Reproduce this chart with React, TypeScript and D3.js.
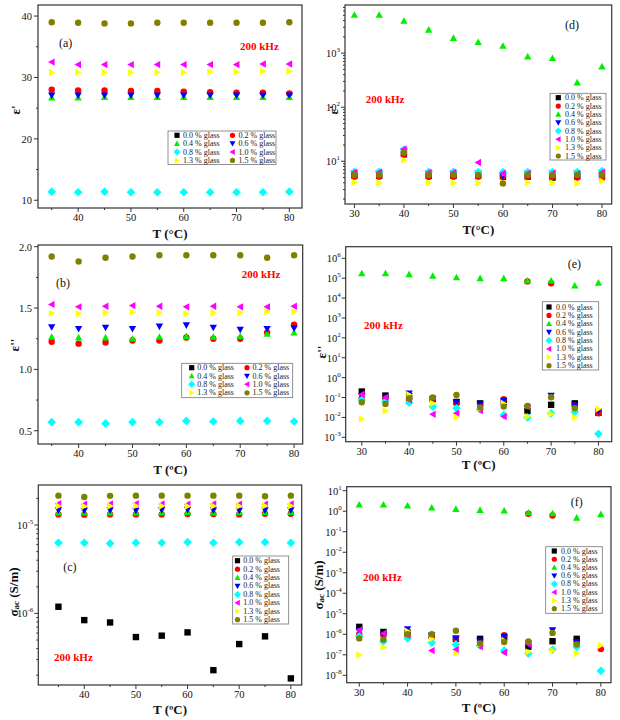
import React from 'react';
import * as d3 from 'd3';

type Val = number | null;

const T_LEFT = [35, 40, 45, 50, 55, 60, 65, 70, 75, 80];
const T_RIGHT = [30, 35, 40, 45, 50, 55, 60, 65, 70, 75, 80];
const GLASS = ['0.0 % glass', '0.2 % glass', '0.4 % glass', '0.6 % glass', '0.8 % glass', '1.0 % glass', '1.3 % glass', '1.5 % glass'];
const COLORS = ['#000000', '#ff0000', '#00f000', '#0000ff', '#00ffff', '#ff00ff', '#ffff00', '#808000'];
const SHAPES = ['square', 'circle', 'up', 'down', 'diamond', 'left', 'right', 'circle'];

const X_TICKS_LEFT = [40, 50, 60, 70, 80];
const X_TICKS_RIGHT = [30, 40, 50, 60, 70, 80];
const Y_TICKS_A = [10, 20, 30, 40];
const Y_TICKS_B = [0.5, 1.0, 1.5, 2.0];
const Y_EXP_C = [-6, -5];
const Y_EXP_D = [1, 2, 3];
const Y_EXP_E = [-3, -2, -1, 0, 1, 2, 3, 4, 5, 6];
const Y_EXP_F = [-8, -7, -6, -5, -4, -3, -2, -1, 0, 1];

// (a) ε' at 200 kHz, 35..80 °C
const EPS1_A: Val[][] = [
  [null, null, null, null, null, null, null, null, null, null],
  [28.0, 27.9, 27.9, 27.8, 27.8, 27.7, 27.6, 27.5, 27.5, 27.4],
  [26.7, 26.7, 26.8, 26.8, 26.8, 26.8, 26.8, 26.8, 26.8, 26.8],
  [27.1, 27.1, 27.1, 27.1, 27.1, 27.1, 27.1, 27.1, 27.1, 27.1],
  [11.4, 11.3, 11.4, 11.3, 11.3, 11.3, 11.3, 11.3, 11.3, 11.4],
  [32.5, 32.1, 32.1, 32.1, 32.1, 32.1, 32.1, 32.1, 32.2, 32.2],
  [30.8, 30.8, 30.8, 30.8, 30.8, 30.8, 30.9, 30.9, 31.0, 31.0],
  [39.0, 38.9, 38.8, 38.8, 38.9, 38.9, 38.9, 38.9, 38.9, 39.0],
];

// (b) ε'' at 200 kHz, 35..80 °C
const EPS2_B: Val[][] = [
  [null, null, null, null, null, null, null, null, null, null],
  [1.226, 1.21, 1.22, 1.235, 1.235, 1.26, 1.25, 1.25, 1.30, 1.365],
  [1.265, 1.26, 1.26, 1.25, 1.265, 1.27, 1.265, 1.27, 1.29, 1.30],
  [1.345, 1.33, 1.34, 1.33, 1.35, 1.36, 1.34, 1.325, 1.33, 1.335],
  [0.57, 0.57, 0.56, 0.57, 0.57, 0.58, 0.575, 0.58, 0.58, 0.575],
  [1.53, 1.51, 1.515, 1.52, 1.515, 1.51, 1.515, 1.51, 1.51, 1.515],
  [1.457, 1.455, 1.46, 1.465, 1.46, 1.455, 1.46, 1.46, 1.47, 1.47],
  [1.92, 1.88, 1.91, 1.92, 1.93, 1.93, 1.93, 1.93, 1.91, 1.93],
];

// (c) σac at 200 kHz, 35..80 °C
const SIGMA_C: Val[][] = [
  [1.19e-6, 8.4e-7, 7.9e-7, 5.4e-7, 5.6e-7, 6.1e-7, 2.28e-7, 4.5e-7, 5.5e-7, 1.84e-7],
  [1.32e-5, 1.31e-5, 1.32e-5, 1.32e-5, 1.32e-5, 1.33e-5, 1.33e-5, 1.32e-5, 1.34e-5, 1.34e-5],
  [1.38e-5, 1.38e-5, 1.38e-5, 1.38e-5, 1.38e-5, 1.39e-5, 1.38e-5, 1.39e-5, 1.39e-5, 1.40e-5],
  [1.47e-5, 1.46e-5, 1.47e-5, 1.46e-5, 1.48e-5, 1.49e-5, 1.47e-5, 1.46e-5, 1.47e-5, 1.47e-5],
  [6.3e-6, 6.3e-6, 6.2e-6, 6.3e-6, 6.3e-6, 6.4e-6, 6.3e-6, 6.4e-6, 6.4e-6, 6.3e-6],
  [1.74e-5, 1.72e-5, 1.73e-5, 1.74e-5, 1.73e-5, 1.72e-5, 1.73e-5, 1.72e-5, 1.72e-5, 1.73e-5],
  [1.64e-5, 1.63e-5, 1.64e-5, 1.65e-5, 1.64e-5, 1.63e-5, 1.64e-5, 1.64e-5, 1.65e-5, 1.65e-5],
  [2.15e-5, 2.08e-5, 2.14e-5, 2.15e-5, 2.15e-5, 2.15e-5, 2.15e-5, 2.15e-5, 2.12e-5, 2.15e-5],
];

// (d) ε' at 200 kHz, 30..80 °C
const EPS1_D: Val[][] = [
  [5.5, 5.4, 13.5, 5.4, 5.4, 5.5, 5.2, 5.2, 5.0, 5.3, 5.5],
  [5.2, 5.2, 13.3, 5.1, 5.2, 5.2, 5.3, 5.2, 5.1, 5.0, 4.8],
  [5100, 5100, 3960, 2700, 1900, 1600, 1360, 865, 808, 286, 565],
  [6.0, 6.0, 15.5, 6.0, 6.0, 6.0, 5.4, 6.0, 6.0, 6.0, 6.2],
  [6.4, 6.4, 16.5, 6.4, 6.4, 6.3, 6.3, 6.3, 6.3, 6.3, 6.6],
  [6.3, 6.3, 16.8, 6.2, 6.2, 9.5, 6.0, 6.0, 6.0, 5.9, 6.3],
  [4.1, 4.0, 10.5, 4.0, 4.0, 4.0, 4.0, 4.0, 4.0, 3.9, 4.3],
  [5.6, 5.6, 14.5, 5.6, 5.6, 5.6, 3.9, 5.6, 5.5, 5.6, 5.6],
];

// (e) ε'' at 200 kHz, 30..80 °C
const EPS2_E: Val[][] = [
  [0.2, 0.126, 0.12, 0.085, 0.06, 0.051, 0.06, 0.021, 0.043, 0.051, 0.017],
  [0.092, 0.09, 0.08, 0.08, 0.051, 0.04, 0.082, 6.9e4, 5.6e4, 0.04, 0.016],
  [1.76e5, 1.76e5, 1.57e5, 1.29e5, 1.1e5, 9.9e4, 9.9e4, 7.5e4, 7.5e4, 4.2e4, 5.9e4],
  [0.12, 0.092, 0.164, 0.085, 0.058, 0.045, 0.07, 0.03, 0.126, 0.04, 0.02],
  [0.076, 0.063, 0.055, 0.035, 0.029, 0.025, 0.0134, 0.01, 0.016, 0.019, 0.0015],
  [0.146, 0.1, 0.076, 0.0144, 0.016, 0.022, 0.011, 0.035, null, null, null],
  [0.0084, 0.021, 0.14, 0.051, 0.0102, 0.028, 0.05, 0.011, 0.015, 0.0102, 0.027],
  [0.058, 0.048, 0.092, 0.1, 0.135, 0.032, 0.035, 0.038, 0.103, 0.029, null],
];

// (f) σac at 200 kHz, 30..80 °C
const SIGMA_F: Val[][] = [
  [2.3e-6, 1.3e-6, 1.2e-6, 8.6e-7, 6e-7, 6e-7, 7e-7, 2.5e-7, 4.6e-7, 6e-7, null],
  [1.0e-6, 9e-7, 8e-7, 7e-7, 6e-7, 4e-7, 9e-7, 0.75, 0.62, 3.5e-7, 1.9e-7],
  [2.07, 2.07, 1.85, 1.48, 1.28, 1.14, 1.06, 0.85, 0.79, 0.48, 0.71],
  [1.5e-6, 9.3e-7, 1.8e-6, 8.6e-7, 6.3e-7, 4.5e-7, 7.7e-7, 3.5e-7, 1.6e-6, 4.3e-7, null],
  [8e-7, 4.5e-7, 6.3e-7, 3.9e-7, 3.2e-7, 2.8e-7, 1.6e-7, 1.15e-7, 1.8e-7, 2.4e-7, 1.65e-8],
  [1.6e-6, 1.1e-6, 9e-7, 1.6e-7, 1.8e-7, 2.5e-7, 1.3e-7, 3.3e-7, null, null, null],
  [9.8e-8, 2.3e-7, 1.4e-6, 6e-7, 1.17e-7, 3.2e-7, 5e-7, 1.4e-7, 1.6e-7, 1.15e-7, 2.9e-7],
  [6.3e-7, 5.6e-7, 1.0e-6, 1.0e-6, 1.5e-6, 3.6e-7, 4.2e-7, 4.5e-7, 1.17e-6, 3.2e-7, null],
];

const FONT = "'Liberation Serif', 'Times New Roman', serif";

function markerPath(shape: string, s: number): string {
  switch (shape) {
    case 'square':
      return `M${-s},${-s}H${s}V${s}H${-s}Z`;
    case 'circle':
      return `M${-s},0A${s},${s} 0 1,0 ${s},0A${s},${s} 0 1,0 ${-s},0Z`;
    case 'up':
      return `M0,${-s * 1.15}L${s * 1.15},${s * 0.9}L${-s * 1.15},${s * 0.9}Z`;
    case 'down':
      return `M0,${s * 1.15}L${s * 1.15},${-s * 0.9}L${-s * 1.15},${-s * 0.9}Z`;
    case 'left':
      return `M${-s * 1.15},0L${s * 0.9},${-s * 1.15}L${s * 0.9},${s * 1.15}Z`;
    case 'right':
      return `M${s * 1.15},0L${-s * 0.9},${-s * 1.15}L${-s * 0.9},${s * 1.15}Z`;
    case 'diamond':
      return `M0,${-s * 1.35}L${s * 1.35},0L0,${s * 1.35}L${-s * 1.35},0Z`;
  }
  return '';
}

interface LegendCfg { x: number; y: number; w: number; h: number; cols: number; rowY: number[]; markX: number[]; textX: number[]; }
interface PanelCfg {
  frame: [number, number, number, number];
  xDom: [number, number];
  yDom: [number, number];
  log: boolean;
  xs: number[];
  data: Val[][];
  xTicks: number[];
  xMinorStep: number;
  yTicks: number[];
  yMinor: number[];
  yFmt: (v: number) => string;
  xTitle: string;
  xTitleY: number;
  yTitle: 'eps1' | 'eps2' | 'sigma';
  yTitlePos: [number, number];
  tag: string;
  tagPos: [number, number];
  khzPos: [number, number];
  legend: LegendCfg;
}

function logMinor(exps: number[], full: boolean): number[] {
  const out: number[] = [];
  if (!full) return out;
  const lo = Math.min(...exps) - 1;
  const hi = Math.max(...exps) + 1;
  for (let e = lo; e <= hi; e++) for (let k = 2; k <= 9; k++) out.push(k * Math.pow(10, e));
  return out;
}

function rows(start: number, step: number, n: number): number[] {
  const r: number[] = [];
  for (let i = 0; i < n; i++) r.push(start + i * step);
  return r;
}

const fmtLin0 = (v: number) => d3.format('d')(v);
const fmtLin1 = (v: number) => d3.format('.1f')(v);

const PANELS: PanelCfg[] = [
  {
    frame: [38, 5, 302, 208], xDom: [32.4, 82.4], yDom: [8.74, 41.8], log: false,
    xs: T_LEFT, data: EPS1_A, xTicks: X_TICKS_LEFT, xMinorStep: 5,
    yTicks: Y_TICKS_A, yMinor: [5, 15, 25, 35], yFmt: fmtLin0,
    xTitle: 'T (°C)', xTitleY: 238, yTitle: 'eps1', yTitlePos: [15, 110],
    tag: '(a)', tagPos: [59, 46.5], khzPos: [240, 50],
    legend: { x: 168, y: 131, w: 108, h: 33.5, cols: 2, rowY: [135.3, 143.6, 152, 160.4], markX: [177, 232.5], textX: [183, 238.5] },
  },
  {
    frame: [38, 245, 302.7, 444], xDom: [32.46, 81.6], yDom: [0.392, 2.014], log: false,
    xs: T_LEFT, data: EPS2_B, xTicks: X_TICKS_LEFT, xMinorStep: 5,
    yTicks: Y_TICKS_B, yMinor: [0.75, 1.25, 1.75], yFmt: fmtLin1,
    xTitle: 'T (ºC)', xTitleY: 474, yTitle: 'eps2', yTitlePos: [14, 345],
    tag: '(b)', tagPos: [56, 286.5], khzPos: [241.7, 278],
    legend: { x: 181.7, y: 363.3, w: 111, h: 34.4, cols: 2, rowY: [367.7, 376, 384.3, 392.8], markX: [191.7, 247], textX: [197.3, 252.5] },
  },
  {
    frame: [38.3, 485, 301.7, 685], xDom: [31.1, 82.1], yDom: [Math.pow(10, -6.81), Math.pow(10, -4.547)], log: true,
    xs: T_LEFT, data: SIGMA_C, xTicks: X_TICKS_LEFT, xMinorStep: 5,
    yTicks: Y_EXP_C.map((e) => Math.pow(10, e)), yMinor: logMinor(Y_EXP_C, true), yFmt: (v) => String(Math.round(Math.log10(v))),
    xTitle: 'T (ºC)', xTitleY: 714, yTitle: 'sigma', yTitlePos: [13, 592],
    tag: '(c)', tagPos: [63.3, 570.5], khzPos: [54, 660.5],
    legend: { x: 232.7, y: 556, w: 56, h: 68, cols: 1, rowY: rows(560.7, 8.43, 8), markX: [237.5], textX: [243.3] },
  },
  {
    frame: [345, 5, 611.7, 204], xDom: [28.1, 81.96], yDom: [Math.pow(10, 0.21), Math.pow(10, 3.89)], log: true,
    xs: T_RIGHT, data: EPS1_D, xTicks: X_TICKS_RIGHT, xMinorStep: 5,
    yTicks: Y_EXP_D.map((e) => Math.pow(10, e)), yMinor: logMinor(Y_EXP_D, true), yFmt: (v) => String(Math.round(Math.log10(v))),
    xTitle: 'T(°C)', xTitleY: 234, yTitle: 'eps1', yTitlePos: [333, 110],
    tag: '(d)', tagPos: [565, 29], khzPos: [365.7, 103],
    legend: { x: 550, y: 93.3, w: 56, h: 66.7, cols: 1, rowY: rows(97.7, 8.33, 8), markX: [558.3], textX: [565] },
  },
  {
    frame: [345.7, 246.7, 611.7, 441.7], xDom: [26.6, 82.8], yDom: [Math.pow(10, -3.22), Math.pow(10, 6.583)], log: true,
    xs: T_RIGHT, data: EPS2_E, xTicks: X_TICKS_RIGHT, xMinorStep: 5,
    yTicks: Y_EXP_E.map((e) => Math.pow(10, e)), yMinor: logMinor(Y_EXP_E, false), yFmt: (v) => String(Math.round(Math.log10(v))),
    xTitle: 'T (ºC)', xTitleY: 469, yTitle: 'eps2', yTitlePos: [321, 352],
    tag: '(e)', tagPos: [567.7, 268], khzPos: [364, 329],
    legend: { x: 542.3, y: 301.7, w: 56.4, h: 68.3, cols: 1, rowY: rows(307, 8.38, 8), markX: [549], textX: [556] },
  },
  {
    frame: [346.7, 486.7, 611, 682.7], xDom: [27.4, 82.1], yDom: [Math.pow(10, -8.36), Math.pow(10, 1.195)], log: true,
    xs: T_RIGHT, data: SIGMA_F, xTicks: X_TICKS_RIGHT, xMinorStep: 5,
    yTicks: Y_EXP_F.map((e) => Math.pow(10, e)), yMinor: logMinor(Y_EXP_F, false), yFmt: (v) => String(Math.round(Math.log10(v))),
    xTitle: 'T (ºC)', xTitleY: 712, yTitle: 'sigma', yTitlePos: [318, 585],
    tag: '(f)', tagPos: [570.7, 505.5], khzPos: [363, 580.5],
    legend: { x: 545.7, y: 546.7, w: 56.6, h: 66.6, cols: 1, rowY: rows(551, 8.24, 8), markX: [554.3], textX: [561] },
  },
];

function YTitle({ kind, x, y }: { kind: string; x: number; y: number }) {
  const common = { fontFamily: FONT, fontSize: 13, fontWeight: 'bold' as const, fill: '#111', textAnchor: 'middle' as const, dominantBaseline: 'central' as const };
  if (kind === 'sigma') {
    return (
      <text transform={`translate(${x},${y}) rotate(-90)`} {...common}>
        σ<tspan fontSize={9} dy={3}>ac</tspan><tspan dy={-3}> (S/m)</tspan>
      </text>
    );
  }
  return (
    <text transform={`translate(${x},${y}) rotate(-90)`} {...common}>
      {kind === 'eps1' ? "ε'" : "ε''"}
    </text>
  );
}

function Panel({ cfg }: { cfg: PanelCfg }) {
  const [x0, y0, x1, y1] = cfg.frame;
  const xS = d3.scaleLinear().domain(cfg.xDom).range([x0, x1]);
  const yS = cfg.log
    ? d3.scaleLog().domain(cfg.yDom).range([y1, y0])
    : d3.scaleLinear().domain(cfg.yDom).range([y1, y0]);
  const inY = (v: number) => v >= Math.min(...cfg.yDom) && v <= Math.max(...cfg.yDom);
  const xMinor: number[] = [];
  for (let v = Math.ceil(cfg.xDom[0] / cfg.xMinorStep) * cfg.xMinorStep; v <= cfg.xDom[1]; v += cfg.xMinorStep) {
    if (!cfg.xTicks.includes(v)) xMinor.push(v);
  }
  const axisColor = '#333';
  const lg = cfg.legend;
  return (
    <g>
      {/* markers */}
      {cfg.data.map((series, si) => (
        <g key={si} fill={COLORS[si]}>
          {series.map((v, i) =>
            v == null ? null : (
              <path key={i} d={markerPath(SHAPES[si], 3.2)} transform={`translate(${xS(cfg.xs[i])},${yS(v)})`} />
            )
          )}
        </g>
      ))}
      {/* frame */}
      <rect x={x0} y={y0} width={x1 - x0} height={y1 - y0} fill="none" stroke={axisColor} strokeWidth={1.2} />
      {/* x ticks */}
      {cfg.xTicks.map((t) => (
        <g key={'xt' + t}>
          <line x1={xS(t)} x2={xS(t)} y1={y1} y2={y1 + 4} stroke={axisColor} strokeWidth={1} />
          <text x={xS(t)} y={y1 + 13} textAnchor="middle" fontFamily={FONT} fontSize={10.5} fill="#111">{t}</text>
        </g>
      ))}
      {xMinor.map((t) => (
        <line key={'xm' + t} x1={xS(t)} x2={xS(t)} y1={y1} y2={y1 + 2} stroke={axisColor} strokeWidth={1} />
      ))}
      {/* y ticks */}
      {cfg.yTicks.filter(inY).map((t) => (
        <g key={'yt' + t}>
          <line x1={x0 - 4} x2={x0} y1={yS(t)} y2={yS(t)} stroke={axisColor} strokeWidth={1} />
          {cfg.log ? (
            <text x={x0 - 5} y={yS(t) + 4} textAnchor="end" fontFamily={FONT} fontSize={10.5} fill="#111">
              10<tspan fontSize={7} dy={-5}>{cfg.yFmt(t)}</tspan>
            </text>
          ) : (
            <text x={x0 - 6} y={yS(t) + 3.8} textAnchor="end" fontFamily={FONT} fontSize={10.5} fill="#111">{cfg.yFmt(t)}</text>
          )}
        </g>
      ))}
      {cfg.yMinor.filter(inY).map((t, i) => (
        <line key={'ym' + i} x1={x0 - 2} x2={x0} y1={yS(t)} y2={yS(t)} stroke={axisColor} strokeWidth={1} />
      ))}
      {/* titles */}
      <text x={(x0 + x1) / 2} y={cfg.xTitleY} textAnchor="middle" fontFamily={FONT} fontSize={13} fontWeight="bold" fill="#111">{cfg.xTitle}</text>
      <YTitle kind={cfg.yTitle} x={cfg.yTitlePos[0]} y={cfg.yTitlePos[1]} />
      <text x={cfg.tagPos[0]} y={cfg.tagPos[1]} fontFamily={FONT} fontSize={12} fill="#111">{cfg.tag}</text>
      <text x={cfg.khzPos[0]} y={cfg.khzPos[1]} fontFamily={FONT} fontSize={11} fontWeight="bold" fill="#ff0000">200 kHz</text>
      {/* legend */}
      <rect x={lg.x} y={lg.y} width={lg.w} height={lg.h} fill="#fff" stroke="#777" strokeWidth={0.8} />
      {GLASS.map((name, i) => {
        const col = i % lg.cols;
        const row = Math.floor(i / lg.cols);
        const ry = lg.rowY[row];
        return (
          <g key={'lg' + i}>
            <path d={markerPath(SHAPES[i], 2.6)} fill={COLORS[i]} transform={`translate(${lg.markX[col]},${ry})`} />
            <text x={lg.textX[col]} y={ry} dominantBaseline="central" fontFamily={FONT} fontSize={8} fill="#222">{name}</text>
          </g>
        );
      })}
    </g>
  );
}

export default function App() {
  return (
    <svg width={620} height={720} viewBox="0 0 620 720" style={{ position: 'absolute', left: 0, top: 0, background: '#fff' }}>
      <rect x={0} y={0} width={620} height={720} fill="#fff" />
      {PANELS.map((p, i) => (
        <Panel key={i} cfg={p} />
      ))}
    </svg>
  );
}
